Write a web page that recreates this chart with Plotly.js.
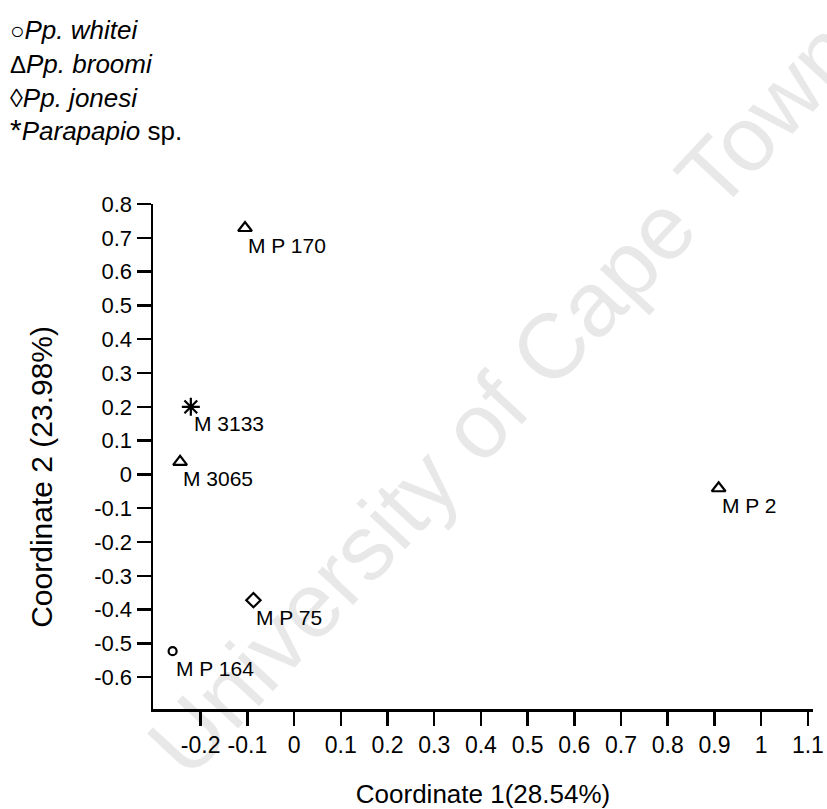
<!DOCTYPE html>
<html><head><meta charset="utf-8">
<script src="https://cdn.plot.ly/plotly-3.0.1.min.js"></script>
<style>body{margin:0;background:#fff}</style>
</head><body><div id="chart" style="width:827px;height:809px"></div>
<script>
// ---- data ----
const whiteiX = [-0.26];   const whiteiY = [-0.523]; const whiteiLabels = ["M P 164"];
const broomiX = [-0.105, -0.244, 0.909]; const broomiY = [0.729, 0.037, -0.041];
const broomiLabels = ["M P 170", "M 3065", "M P 2"];
const jonesiX = [-0.087];  const jonesiY = [-0.372]; const jonesiLabels = ["M P 75"];
const paraX = [-0.221];    const paraY = [0.200];    const paraLabels = ["M 3133"];

const xTickVals = [-0.2,-0.1,0,0.1,0.2,0.3,0.4,0.5,0.6,0.7,0.8,0.9,1,1.1];
const xTickText = ["-0.2","-0.1","0","0.1","0.2","0.3","0.4","0.5","0.6","0.7","0.8","0.9","1","1.1"];
const yTickVals = [0.8,0.7,0.6,0.5,0.4,0.3,0.2,0.1,0,-0.1,-0.2,-0.3,-0.4,-0.5,-0.6];
const yTickText = ["0.8","0.7","0.6","0.5","0.4","0.3","0.2","0.1","0","-0.1","-0.2","-0.3","-0.4","-0.5","-0.6"];

const FONT = "Arial, 'Liberation Sans', sans-serif";

function tr(x, y, symbol, size, name) {
  return {x: x, y: y, type: "scatter", mode: "markers", name: name,
    marker: {symbol: symbol, size: size, color: "black", line: {color: "black", width: 2.2}},
    hoverinfo: "skip"};
}
const traces = [
  tr(whiteiX, whiteiY, "circle-open", 8, "Pp. whitei"),
  tr(broomiX, broomiY, "triangle-up-open", 12, "Pp. broomi"),
  tr(jonesiX, jonesiY, "diamond-open", 11, "Pp. jonesi"),
  tr(paraX, paraY, "asterisk-open", 15, "Parapapio sp.")
];

const annotations = [];

// watermark
annotations.push({xref: "paper", yref: "paper", x: 0.53, y: 0.615, text: "University of Cape Town",
  showarrow: false, textangle: -47, font: {family: FONT, size: 92, color: "rgba(0,0,0,0.09)"}});

[[whiteiX, whiteiY, whiteiLabels],[broomiX, broomiY, broomiLabels],
 [jonesiX, jonesiY, jonesiLabels],[paraX, paraY, paraLabels]].forEach(g => {
  g[0].forEach((x, i) => annotations.push({
    x: x, y: g[1][i], xref: "x", yref: "y", text: g[2][i], showarrow: false,
    xanchor: "left", yanchor: "middle", xshift: 1, yshift: -17,
    font: {family: FONT, size: 21, color: "black"}
  }));
});

// y axis title (placed as a rotated annotation to match the reference position)
annotations.push({xref: "paper", yref: "paper", x: -0.168, y: 0.46, xanchor: "center", yanchor: "middle",
  showarrow: false, textangle: -90, text: "Coordinate 2 (23.98%)",
  font: {family: FONT, size: 30, color: "black"}});

// species key
annotations.push({xref: "paper", yref: "paper", x: -0.2197, y: 1.2455, xanchor: "left", yanchor: "middle",
  align: "left", showarrow: false, font: {family: FONT, size: 26, color: "black"},
  text: "<span style='font-size:24px'>○</span><i>Pp. whitei</i><br>" +
        "<span style='font-size:24px'>Δ</span><i>Pp. broomi</i><br>" +
        "<span style='font-size:26px'>◊</span><i>Pp. jonesi</i><br>" +
        "<span style='font-size:30px'>*</span><i>Parapapio</i> sp."});

const axisCommon = {showline: true, linewidth: 2.5, linecolor: "black", ticks: "outside", ticklen: 14,
  tickwidth: 2.5, tickcolor: "black", showgrid: false, zeroline: false, mirror: false};

const layout = {
  width: 827, height: 809, paper_bgcolor: "white", plot_bgcolor: "white",
  margin: {l: 153, r: 14, t: 204, b: 100}, showlegend: false,
  xaxis: Object.assign({}, axisCommon, {range: [-0.302, 1.111], tickmode: "array",
    tickvals: xTickVals, ticktext: xTickText,
    tickfont: {family: FONT, size: 23, color: "black"},
    title: {text: "Coordinate 1(28.54%)", font: {family: FONT, size: 26, color: "black"}, standoff: 32}}),
  yaxis: Object.assign({}, axisCommon, {range: [-0.694, 0.8], tickmode: "array",
    tickvals: yTickVals, ticktext: yTickText,
    tickfont: {family: FONT, size: 22, color: "black"}}),
  annotations: annotations
};

Plotly.newPlot("chart", traces, layout, {displayModeBar: false, staticPlot: true});
</script></body></html>
